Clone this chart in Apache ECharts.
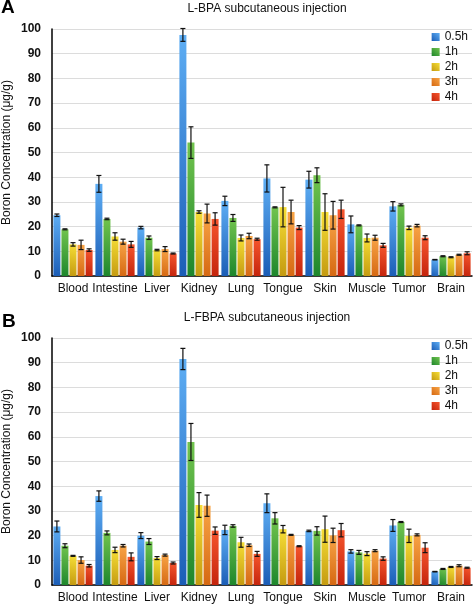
<!DOCTYPE html>
<html>
<head>
<meta charset="utf-8">
<script src="https://cdn.jsdelivr.net/npm/echarts@6/dist/echarts.min.js"></script>
<style>html,body{margin:0;padding:0;background:#fff}#c{width:473px;height:605px}</style>
</head>
<body>
<div id="c"></div>
<script>
const categories = ['Blood','Intestine','Liver','Kidney','Lung','Tongue','Skin','Muscle','Tumor','Brain'];
const seriesNames = ['0.5h','1h','2h','3h','4h'];
const yTicks = [0,10,20,30,40,50,60,70,80,90,100];
const yAxisTitle = 'Boron Concentration (\u03bcg/g)';

// Panel A: L-BPA
const bpa_05h = [24.6, 37.3, 19.6, 97.6, 30.4, 39.5, 39.0, 20.9, 28.2, 6.6];
const bpa_1h  = [18.9, 23.1, 15.5, 54.0, 23.5, 27.8, 40.8, 20.5, 28.8, 8.0];
const bpa_2h  = [12.8, 16.0, 10.5, 25.9, 15.4, 27.9, 25.9, 15.4, 19.5, 7.6];
const bpa_3h  = [12.6, 13.9, 10.9, 25.3, 16.2, 25.9, 24.6, 15.5, 20.4, 8.6];
const bpa_4h  = [10.5, 12.8, 9.1, 23.1, 14.9, 19.6, 27.0, 12.4, 15.5, 9.2];
const bpaErr_05h = [0.5, 3.4, 0.5, 2.6, 1.9, 5.5, 3.4, 3.4, 1.9, 0.1];
const bpaErr_1h  = [0.2, 0.3, 0.7, 6.4, 1.4, 0.2, 3.0, 0.2, 0.4, 0.2];
const bpaErr_2h  = [0.7, 1.5, 0.3, 0.5, 1.2, 8.0, 7.4, 1.6, 0.7, 0.2];
const bpaErr_3h  = [1.9, 1.0, 1.0, 3.8, 1.1, 4.8, 5.6, 1.0, 0.5, 0.2];
const bpaErr_4h  = [0.5, 1.2, 0.2, 2.5, 0.4, 0.8, 3.7, 0.8, 0.8, 0.6];

// Panel B: L-FBPA
const fbpa_05h = [23.7, 36.0, 20.0, 91.5, 22.3, 33.1, 21.9, 13.6, 24.1, 5.4];
const fbpa_1h  = [15.9, 21.1, 17.6, 57.9, 23.9, 27.0, 21.9, 13.2, 25.5, 6.5];
const fbpa_2h  = [11.8, 14.2, 10.9, 32.4, 17.3, 22.6, 22.6, 12.7, 19.9, 7.3];
const fbpa_3h  = [10.1, 15.9, 12.1, 32.1, 16.1, 20.3, 20.1, 13.9, 20.3, 7.8];
const fbpa_4h  = [7.8, 11.4, 8.9, 22.0, 12.6, 15.7, 22.2, 10.7, 15.1, 7.0];
const fbpaErr_05h = [2.2, 2.1, 1.2, 4.3, 1.9, 3.8, 0.3, 0.7, 2.4, 0.1];
const fbpaErr_1h  = [0.8, 0.8, 1.2, 7.5, 0.5, 2.3, 1.7, 0.8, 0.2, 0.2];
const fbpaErr_2h  = [0.2, 1.1, 0.6, 5.0, 2.0, 1.5, 5.3, 0.8, 2.7, 0.2];
const fbpaErr_3h  = [1.3, 0.5, 0.4, 4.3, 0.5, 0.2, 2.9, 0.4, 0.4, 0.4];
const fbpaErr_4h  = [0.5, 1.6, 0.4, 1.5, 1.0, 0.2, 2.7, 0.7, 2.0, 0.2];

const bpaVals = [bpa_05h, bpa_1h, bpa_2h, bpa_3h, bpa_4h];
const bpaErrs = [bpaErr_05h, bpaErr_1h, bpaErr_2h, bpaErr_3h, bpaErr_4h];
const fbpaVals = [fbpa_05h, fbpa_1h, fbpa_2h, fbpa_3h, fbpa_4h];
const fbpaErrs = [fbpaErr_05h, fbpaErr_1h, fbpaErr_2h, fbpaErr_3h, fbpaErr_4h];

const colorPairs = [
  ['#5eaef4', '#1b5db6'],
  ['#72c44e', '#1d862c'],
  ['#f6de36', '#c49a10'],
  ['#f8a446', '#d56812'],
  ['#f6562e', '#c4240c']
];
const FONT = '"Liberation Sans", Arial, Helvetica, sans-serif';
const BW = 7, BG = 1.05;

function grad(i) {
  return new echarts.graphic.LinearGradient(1, 0, 0, 1, [
    {offset: 0, color: colorPairs[i][0]},
    {offset: 1, color: colorPairs[i][1]}
  ]);
}

function renderErr(params, api) {
  const ci = api.value(0), si = api.value(1), lo = api.value(2), hi = api.value(3);
  const pHi = api.coord([ci, hi]);
  const pLo = api.coord([ci, lo]);
  const x = pHi[0] + (si - 2) * (BW + BG);
  const cw = 2.5;
  const st = {stroke: '#111', lineWidth: 1.2};
  return {
    type: 'group',
    children: [
      {type: 'line', shape: {x1: x, y1: pHi[1], x2: x, y2: pLo[1]}, style: st},
      {type: 'line', shape: {x1: x - cw, y1: pHi[1], x2: x + cw, y2: pHi[1]}, style: st},
      {type: 'line', shape: {x1: x - cw, y1: pLo[1], x2: x + cw, y2: pLo[1]}, style: st}
    ]
  };
}

function errData(vals, errs) {
  const d = [];
  for (let s = 0; s < vals.length; s++) {
    for (let c = 0; c < categories.length; c++) {
      d.push([c, s, vals[s][c] - errs[s][c], vals[s][c] + errs[s][c]]);
    }
  }
  return d;
}

const tops = [29, 338];
const GH = 247;
const grids = tops.map(t => ({left: 52, right: 1, top: t, height: GH, containLabel: false, outerBoundsMode: 'none'}));
const xAxes = [0, 1].map(g => ({
  type: 'category', gridIndex: g, data: categories,
  axisLine: {lineStyle: {color: '#000', width: 1.5}},
  axisTick: {show: false},
  axisLabel: {fontFamily: FONT, fontSize: 12, color: '#111', margin: 7, interval: 0}
}));
const yAxes = [0, 1].map(g => ({
  type: 'value', gridIndex: g, min: yTicks[0], max: yTicks[yTicks.length - 1], interval: 10,
  axisLine: {show: true, lineStyle: {color: '#000', width: 1.5}},
  axisTick: {show: false},
  axisLabel: {fontFamily: FONT, fontSize: 12, fontWeight: 'bold', color: '#111', margin: 11},
  splitLine: {lineStyle: {color: '#dcdcdc', width: 1}}
}));

const series = [];
[bpaVals, fbpaVals].forEach((vals, g) => {
  vals.forEach((v, i) => {
    series.push({
      type: 'bar', name: seriesNames[i], xAxisIndex: g, yAxisIndex: g,
      data: v, barWidth: BW, barGap: '15%',
      itemStyle: {color: grad(i)}
    });
  });
  series.push({
    type: 'custom', name: 'err' + g, xAxisIndex: g, yAxisIndex: g,
    renderItem: renderErr, data: errData(vals, g === 0 ? bpaErrs : fbpaErrs),
    encode: {x: 0, y: [2, 3]}, z: 10, silent: true, clip: false
  });
});

const legends = tops.map(t => ({
  data: seriesNames.map((n, i) => ({name: n, itemStyle: {color: grad(i)}})),
  orient: 'vertical', right: 0, top: t - 3.5,
  icon: 'rect', itemWidth: 8, itemHeight: 8, itemGap: 2,
  textStyle: {fontFamily: FONT, fontSize: 12, color: '#111', lineHeight: 13},
  selectedMode: false
}));

const yTitles = tops.map(t => ({
  type: 'text', x: 7, y: t + GH / 2, rotation: Math.PI / 2,
  style: {text: yAxisTitle, font: '12px ' + FONT, fill: '#111', align: 'center', verticalAlign: 'middle'}
}));

const option = {
  backgroundColor: '#fff',
  animation: false,
  title: [
    {text: 'L-BPA subcutaneous injection', left: 262, top: -2, textAlign: 'center',
     textStyle: {fontFamily: FONT, fontSize: 12, fontWeight: 'normal', color: '#111'}},
    {text: 'L-FBPA subcutaneous injection', left: 262, top: 307, textAlign: 'center',
     textStyle: {fontFamily: FONT, fontSize: 12, fontWeight: 'normal', color: '#111'}}
  ],
  graphic: [
    {type: 'text', left: 1, top: -2, style: {text: 'A', font: 'bold 19px ' + FONT, fill: '#000'}},
    {type: 'text', left: 2, top: 312, style: {text: 'B', font: 'bold 19px ' + FONT, fill: '#000'}}
  ].concat(yTitles),
  legend: legends,
  grid: grids,
  xAxis: xAxes,
  yAxis: yAxes,
  series: series
};

const chart = echarts.init(document.getElementById('c'), null, {renderer: 'canvas'});
chart.setOption(option);
</script>
</body>
</html>
